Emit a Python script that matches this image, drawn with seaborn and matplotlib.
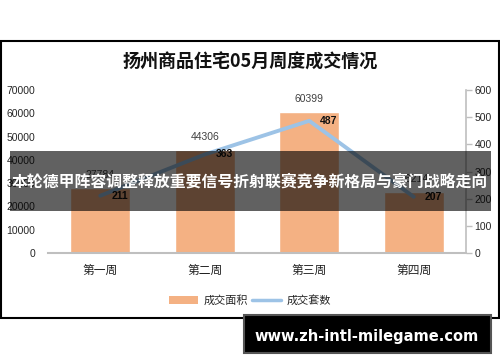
import matplotlib
matplotlib.use("Agg")
import matplotlib.pyplot as plt
import seaborn as sns
import pandas as pd
from matplotlib.patches import Rectangle
from matplotlib.lines import Line2D
from matplotlib.patches import Patch

weeks = ["第一周", "第二周", "第三周", "第四周"]
area = [27784, 44306, 60399, 26214]
units = [211, 363, 487, 207]
left_ticks = [0, 10000, 20000, 30000, 40000, 50000, 60000, 70000]
right_ticks = [0, 100, 200, 300, 400, 500, 600]
title = "扬州商品住宅05月周度成交情况"
legend_labels = ["成交面积", "成交套数"]
banner = "本轮德甲阵容调整释放重要信号折射联赛竞争新格局与豪门战略走向"
watermark = "www.zh-intl-milegame.com"

sns.set_theme(style="white")
plt.rcParams['font.family'] = ['Liberation Sans', 'Noto Sans CJK SC', 'DejaVu Sans']

bar_color = "#F4B183"
line_color = "#9DC3E6"
cjk = ['Noto Sans CJK SC', 'DejaVu Sans']

df = pd.DataFrame({"week": weeks, "area": area, "units": units})

fig = plt.figure(figsize=(5, 3.62), dpi=100)
fig.patch.set_facecolor("white")
ax = fig.add_axes([0.096, 0.301, 0.836, 0.450])
sns.barplot(data=df, x="week", y="area", color=bar_color, saturation=1,
            width=0.57, ax=ax)
ax.set_xlim(-0.5, 3.5)
ax.set_ylim(0, 70000)
ax.set_yticks(left_ticks)
ax.set_yticklabels([str(t) for t in left_ticks], fontsize=7.5, color="#262626")
ax.tick_params(axis="y", length=0, pad=9)
ax.tick_params(axis="x", length=0, pad=8)
ax.set_xticklabels(weeks, fontsize=8.5, family=cjk, color="#222222")
ax.set_xlabel("")
ax.set_ylabel("")
for s in ["top", "left", "right"]:
    ax.spines[s].set_visible(False)
ax.spines["bottom"].set_color("#BFBFBF")
ax.spines["bottom"].set_linewidth(1.5)
ax.bar_label(ax.containers[0], labels=[str(v) for v in area], padding=6,
             fontsize=7.5, color="#404040")

ax2 = ax.twinx()
sns.lineplot(data=df, x="week", y="units", color=line_color, linewidth=2.8,
             ax=ax2, sort=False)
ax2.set_xlim(-0.5, 3.5)
ax2.set_ylim(0, 600)
ax2.set_yticks(right_ticks)
ax2.set_yticklabels([str(t) for t in right_ticks], fontsize=7.5, color="#262626")
ax2.tick_params(axis="y", length=4, width=1, color="#BFBFBF", pad=2, right=True)
ax2.set_ylabel("")
for s in ["top", "left", "bottom"]:
    ax2.spines[s].set_visible(False)
ax2.spines["right"].set_color("#BFBFBF")
ax2.spines["right"].set_linewidth(1.2)
for i, v in enumerate(units):
    ax2.annotate(str(v), (i, v), xytext=(14, 0), textcoords="offset points",
                 ha="center", va="center", fontsize=7.5, fontweight="bold",
                 color="#111111")

fig.text(0.5, 0.829, title, ha="center", va="center", fontsize=13,
         fontweight="bold", family=cjk, color="#111111")

handles = [Patch(facecolor=bar_color, edgecolor="none"),
           Line2D([0], [0], color=line_color, linewidth=2.5)]
fig.legend(handles, legend_labels, loc="center", bbox_to_anchor=(0.5, 0.171),
           ncol=2, frameon=False, prop={"family": cjk, "size": 8},
           handlelength=2.6, handletextpad=0.5, columnspacing=0.4)

fig.patches.append(Rectangle((1/500, 1-318/362), 498/500, 277/362,
                             transform=fig.transFigure, fill=False,
                             edgecolor="black", linewidth=1.5, zorder=4))

fig.patches.append(Rectangle((10/500, 1-211/362), 481/500, 60/362,
                             transform=fig.transFigure, facecolor="black",
                             alpha=0.62, edgecolor="none", zorder=5))
fig.text(250/500, 1-182/362, banner, ha="center", va="center", fontsize=11.4,
         fontweight="bold", family=cjk, color="white", zorder=6)

fig.patches.append(Rectangle((244/500, 1-353/362), 247/500, 38/362,
                             transform=fig.transFigure, facecolor="black",
                             edgecolor="#555555", linewidth=1.5, zorder=5))
fig.text(367/500, 1-336/362, watermark, ha="center", va="center",
         fontsize=10.5, fontweight="bold", family=["DejaVu Sans"],
         color="white", zorder=6)

fig.savefig("out.png", dpi=100)
